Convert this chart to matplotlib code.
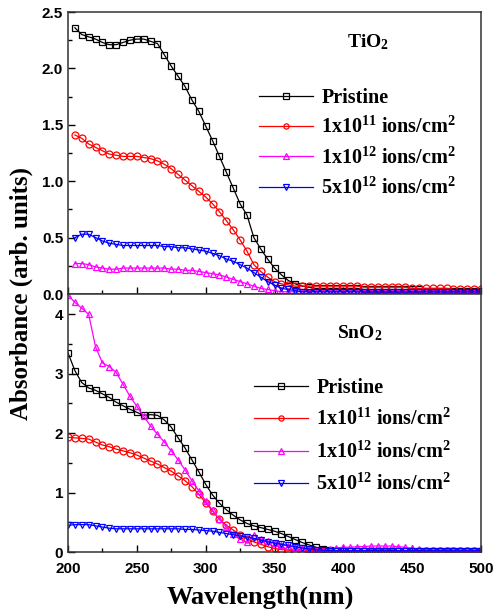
import numpy as np
import matplotlib
matplotlib.use("Agg")
import matplotlib.pyplot as plt
from matplotlib.ticker import MultipleLocator

plt.rcParams['mathtext.fontset'] = 'custom'
plt.rcParams['mathtext.rm'] = 'Liberation Serif:bold'
plt.rcParams['mathtext.it'] = 'Liberation Serif:bold'
plt.rcParams['mathtext.bf'] = 'Liberation Serif:bold'

# ---------------- data ----------------
wl_top = list(range(205, 505, 5))   # TiO2 wavelengths (nm)
wl_bot = list(range(200, 505, 5))   # SnO2 wavelengths (nm)

labels = ["Pristine",
          r"1x10$^{11}$ ions/cm$^{2}$",
          r"1x10$^{12}$ ions/cm$^{2}$",
          r"5x10$^{12}$ ions/cm$^{2}$"]

# TiO2
tio2_pristine = [2.36, 2.30, 2.28, 2.26, 2.23, 2.21, 2.21, 2.23, 2.25, 2.26, 2.26, 2.24,
                 2.22, 2.12, 2.02, 1.93, 1.84, 1.72, 1.62, 1.49, 1.36, 1.22, 1.08, 0.94,
                 0.80, 0.70, 0.50, 0.40, 0.31, 0.23, 0.17, 0.12, 0.09, 0.07, 0.06, 0.05,
                 0.05, 0.05, 0.05, 0.05, 0.05, 0.05, 0.04, 0.04, 0.04, 0.04, 0.04, 0.04,
                 0.04, 0.04, 0.04, 0.03, 0.03, 0.03, 0.03, 0.03, 0.03, 0.03, 0.03, 0.03]
tio2_1e11 = [1.41, 1.38, 1.33, 1.30, 1.27, 1.24, 1.23, 1.22, 1.22, 1.22, 1.21, 1.20,
             1.18, 1.15, 1.11, 1.06, 1.01, 0.96, 0.91, 0.86, 0.80, 0.73, 0.65, 0.57,
             0.48, 0.38, 0.26, 0.20, 0.15, 0.11, 0.09, 0.08, 0.07, 0.07, 0.07, 0.07,
             0.07, 0.07, 0.07, 0.07, 0.07, 0.07, 0.06, 0.06, 0.06, 0.06, 0.06, 0.06,
             0.06, 0.05, 0.05, 0.05, 0.05, 0.05, 0.05, 0.04, 0.04, 0.04, 0.04, 0.04]
tio2_1e12 = [0.27, 0.27, 0.26, 0.24, 0.23, 0.22, 0.22, 0.23, 0.23, 0.23, 0.23, 0.23,
             0.23, 0.23, 0.22, 0.22, 0.21, 0.21, 0.20, 0.19, 0.18, 0.17, 0.15, 0.13,
             0.11, 0.09, 0.07, 0.05, 0.04, 0.03, 0.02, 0.02, 0.02, 0.02, 0.02, 0.02,
             0.02, 0.02, 0.02, 0.02, 0.02, 0.02, 0.02, 0.02, 0.02, 0.02, 0.02, 0.02,
             0.02, 0.02, 0.02, 0.02, 0.02, 0.02, 0.02, 0.02, 0.02, 0.02, 0.02, 0.02]
tio2_5e12 = [0.50, 0.53, 0.53, 0.50, 0.47, 0.45, 0.44, 0.43, 0.43, 0.43, 0.43, 0.43,
             0.43, 0.42, 0.42, 0.41, 0.41, 0.40, 0.39, 0.38, 0.36, 0.34, 0.31, 0.29,
             0.26, 0.23, 0.19, 0.15, 0.11, 0.08, 0.05, 0.04, 0.03, 0.02, 0.02, 0.02,
             0.02, 0.02, 0.02, 0.02, 0.02, 0.02, 0.02, 0.02, 0.02, 0.02, 0.02, 0.02,
             0.02, 0.02, 0.02, 0.02, 0.02, 0.02, 0.02, 0.02, 0.02, 0.02, 0.02, 0.02]

# SnO2
sno2_pristine = [3.35, 3.05, 2.85, 2.76, 2.72, 2.66, 2.60, 2.52, 2.46, 2.40, 2.35, 2.30,
                 2.31, 2.30, 2.22, 2.10, 1.92, 1.75, 1.55, 1.35, 1.14, 0.96, 0.82, 0.71,
                 0.62, 0.54, 0.48, 0.44, 0.41, 0.38, 0.35, 0.31, 0.26, 0.21, 0.16, 0.12,
                 0.08, 0.05, 0.03, 0.02, 0.02, 0.02, 0.02, 0.02, 0.02, 0.02, 0.02, 0.02,
                 0.02, 0.02, 0.02, 0.02, 0.02, 0.02, 0.02, 0.02, 0.02, 0.02, 0.02, 0.02, 0.02]
sno2_1e11 = [1.93, 1.92, 1.91, 1.90, 1.85, 1.80, 1.77, 1.73, 1.70, 1.67, 1.63, 1.58,
             1.53, 1.48, 1.42, 1.36, 1.28, 1.20, 1.10, 0.97, 0.83, 0.69, 0.55, 0.45,
             0.37, 0.29, 0.22, 0.17, 0.13, 0.09, 0.06, 0.04, 0.03, 0.02, 0.02, 0.02,
             0.02, 0.02, 0.02, 0.02, 0.02, 0.02, 0.02, 0.02, 0.02, 0.02, 0.02, 0.02,
             0.01, 0.01, 0.01, 0.01, 0.01, 0.01, 0.01, 0.01, 0.01, 0.01, 0.01, 0.01, 0.01]
sno2_1e12 = [4.32, 4.20, 4.10, 4.00, 3.45, 3.18, 3.12, 3.02, 2.82, 2.62, 2.45, 2.28,
             2.12, 1.98, 1.85, 1.70, 1.55, 1.38, 1.20, 1.03, 0.86, 0.70, 0.55, 0.42,
             0.31, 0.22, 0.16, 0.28, 0.22, 0.18, 0.15, 0.12, 0.10, 0.08, 0.06, 0.05,
             0.04, 0.03, 0.05, 0.07, 0.08, 0.08, 0.09, 0.09, 0.10, 0.10, 0.10, 0.10,
             0.09, 0.08, 0.06, 0.05, 0.04, 0.03, 0.03, 0.03, 0.03, 0.03, 0.03, 0.03, 0.03]
sno2_5e12 = [0.45, 0.46, 0.46, 0.46, 0.44, 0.42, 0.40, 0.39, 0.39, 0.39, 0.39, 0.39,
             0.39, 0.39, 0.39, 0.39, 0.39, 0.38, 0.38, 0.37, 0.36, 0.35, 0.33, 0.31,
             0.29, 0.27, 0.25, 0.23, 0.20, 0.17, 0.15, 0.13, 0.11, 0.09, 0.07, 0.05,
             0.04, 0.03, 0.02, 0.02, 0.02, 0.02, 0.02, 0.02, 0.02, 0.02, 0.02, 0.02,
             0.02, 0.02, 0.02, 0.02, 0.02, 0.02, 0.02, 0.02, 0.02, 0.02, 0.02, 0.02, 0.02]

colors = ["black", "#ff0000", "#ff00ff", "#0000ff"]
markers = ["s", "o", "^", "v"]

# ---------------- figure ----------------
fig = plt.figure(figsize=(4.98, 6.14), dpi=100)
L, W = 68/498, (481-68)/498
ax1 = fig.add_axes([L, 1-294/614, W, (294-12)/614])
ax2 = fig.add_axes([L, 1-552/614, W, (552-294)/614])

tick_font = dict(family="Liberation Sans", weight="bold", size=11)
serif_bold = dict(family="Liberation Serif", weight="bold")

def draw(ax, wl, series, title, ylim, major, minor, title_xy, leg_anchor, spacing):
    for y, c, m, lab in zip(series, colors, markers, labels):
        ax.plot(wl, y, color=c, marker=m, markersize=5, markerfacecolor="none",
                markeredgewidth=0.9, linewidth=0.9, label=lab)
    ax.set_xlim(200, 500)
    ax.set_ylim(*ylim)
    ax.xaxis.set_major_locator(MultipleLocator(50))
    ax.xaxis.set_minor_locator(MultipleLocator(25))
    ax.yaxis.set_major_locator(MultipleLocator(major))
    ax.yaxis.set_minor_locator(MultipleLocator(minor))
    ax.tick_params(which="both", direction="in", top=False, right=False)
    ax.tick_params(which="major", length=5, width=1)
    ax.tick_params(which="minor", length=3, width=1)
    for s in ax.spines.values():
        s.set_linewidth(1.1)
        s.set_color("#333333")
    ax.text(title_xy[0], title_xy[1], title, transform=ax.transAxes,
            ha="center", va="center", fontsize=14, **serif_bold)
    leg = ax.legend(loc="upper left", bbox_to_anchor=leg_anchor, frameon=False,
                    prop=dict(family="Liberation Serif", weight="bold", size=14.5),
                    handlelength=2.7, handletextpad=0.4, labelspacing=spacing,
                    markerscale=0.75, borderaxespad=0, borderpad=0)
    return leg

draw(ax1, wl_top, [tio2_pristine, tio2_1e11, tio2_1e12, tio2_5e12], r"TiO$_{2}$",
     (0, 2.5), 0.5, 0.25, ((368-68)/413, 1-(42-12)/282), ((259-68)/413, 1-(88-12)/282),
     0.45)
ax1.set_yticks([0, 0.5, 1.0, 1.5, 2.0, 2.5])
ax1.set_yticklabels(["0.0", "0.5", "1.0", "1.5", "2.0", "2.5"], **tick_font)
ax1.tick_params(axis="x", labelbottom=False)

draw(ax2, wl_bot, [sno2_pristine, sno2_1e11, sno2_1e12, sno2_5e12], r"SnO$_{2}$",
     (0, 4.34), 1, 0.5, ((360-68)/413, 1-(333-294)/258), ((254-68)/413, 1-(378-294)/258),
     0.55)
ax2.set_yticks([0, 1, 2, 3, 4])
ax2.set_yticklabels(["0", "1", "2", "3", "4"], **tick_font)
ax2.set_xticks([200, 250, 300, 350, 400, 450, 500])
ax2.set_xticklabels(["200", "250", "300", "350", "400", "450", "500"], **tick_font)
ax2.tick_params(axis="x", pad=7)

fig.text(260/498, 1-597/614, "Wavelength(nm)", ha="center", va="center",
         fontsize=19, **serif_bold)
fig.text(21/498, 1-294/614, "Absorbance (arb. units)", rotation=90, ha="center",
         va="center", fontsize=18, **serif_bold)

fig.savefig("out.png", dpi=100)
